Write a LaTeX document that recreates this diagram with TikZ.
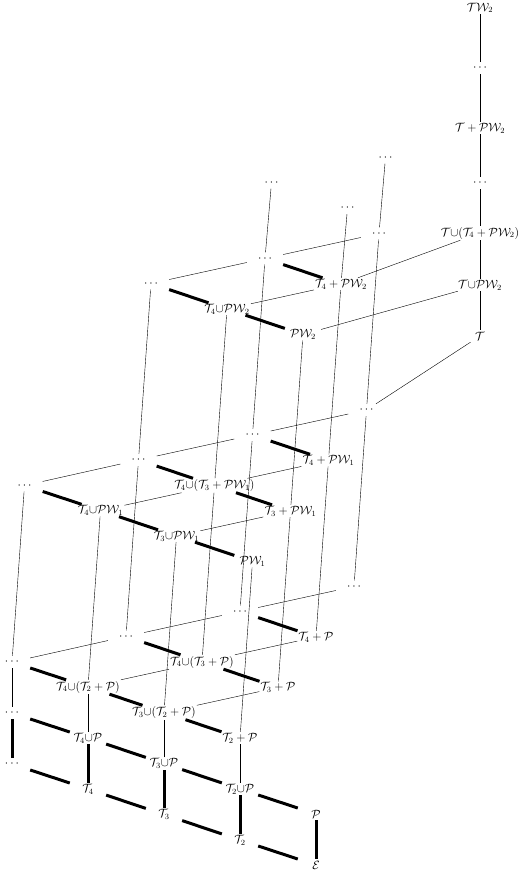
\documentclass[tikz,border=0pt]{standalone}
\newcommand{\cT}{\mathcal{T}}
\newcommand{\cP}{\mathcal{P}}
\newcommand{\cW}{\mathcal{W}}
\newcommand{\cE}{\mathcal{E}}
\newcommand{\un}{{\cup}}
\begin{document}
\begin{tikzpicture}[x=1pt,y=-1pt,
  n/.style={inner sep=1pt,minimum width=36pt,minimum height=12pt,font=\fontsize{12}{14}\selectfont},
  ln/.style={line width=0.4pt},
  tk/.style={line width=3pt}]
\useasboundingbox (0,0) rectangle (520,872);
% P layer
\node[n] (E)  at (316,865)   {$\cE$};
\node[n] (A2) at (240,840)   {$\cT_2$};
\node[n] (A3) at (164,814.5) {$\cT_3$};
\node[n] (A4) at (88,789)    {$\cT_4$};
\node[n] (A5) at (12,764)    {$\cdots$};
\node[n] (P)  at (316,814)   {$\cP$};
\node[n] (B2) at (240,789)   {$\cT_2\un\cP$};
\node[n] (B3) at (164,763.5) {$\cT_3\un\cP$};
\node[n] (B4) at (88,738)    {$\cT_4\un\cP$};
\node[n] (B5) at (12,713)    {$\cdots$};
\node[n] (C2) at (240,738)   {$\cT_2+\cP$};
\node[n] (C3) at (164,712.5) {$\cT_3\un(\cT_2+\cP)$};
\node[n] (C4) at (88,687)    {$\cT_4\un(\cT_2+\cP)$};
\node[n] (C5) at (12,662)    {$\cdots$};
\node[n] (D3) at (278,687.5) {$\cT_3+\cP$};
\node[n] (D4) at (202,662)   {$\cT_4\un(\cT_3+\cP)$};
\node[n] (D5) at (126,636.5) {$\cdots$};
\node[n] (F4) at (316,637)   {$\cT_4+\cP$};
\node[n] (F5) at (240,611.5) {$\cdots$};
\node[n] (G5) at (354,586.5) {$\cdots$};
% PW1 layer
\node[n] (C2a) at (252.5,561.5) {$\cP\cW_1$};
\node[n] (C3a) at (176.5,536)   {$\cT_3\un\cP\cW_1$};
\node[n] (C4a) at (100.5,510.5) {$\cT_4\un\cP\cW_1$};
\node[n] (C5a) at (24.5,485.5)  {$\cdots$};
\node[n] (D3a) at (290.5,511)   {$\cT_3+\cP\cW_1$};
\node[n] (D4a) at (214.5,485.5) {$\cT_4\un(\cT_3+\cP\cW_1)$};
\node[n] (D5a) at (138.5,460)   {$\cdots$};
\node[n] (F4a) at (328.5,460.5) {$\cT_4+\cP\cW_1$};
\node[n] (F5a) at (252.5,435)   {$\cdots$};
\node[n] (G5a) at (366.5,410)   {$\cdots$};
% PW2 layer
\node[n] (D3b) at (303,334.5) {$\cP\cW_2$};
\node[n] (D4b) at (227,309)   {$\cT_4\un\cP\cW_2$};
\node[n] (D5b) at (151,283.5) {$\cdots$};
\node[n] (F4b) at (341,284)   {$\cT_4+\cP\cW_2$};
\node[n] (F5b) at (265,258.5) {$\cdots$};
\node[n] (G5b) at (379,233.5) {$\cdots$};
% top dots
\node[n] (F4t) at (347.5,208)   {$\cdots$};
\node[n] (F5t) at (271.5,182.5) {$\cdots$};
\node[n] (G5t) at (385.5,157.5) {$\cdots$};
% T column
\node[n] (T0) at (480,336) {$\cT$};
\node[n] (T1) at (480,285) {$\cT\un\cP\cW_2$};
\node[n] (T2) at (480,233) {$\cT\un(\cT_4+\cP\cW_2)$};
\node[n] (T3) at (480,183) {$\cdots$};
\node[n] (T4) at (480,128) {$\cT+\cP\cW_2$};
\node[n] (T5) at (480,68)  {$\cdots$};
\node[n] (T6) at (480,8)   {$\cT\cW_2$};
% thick edges
\foreach \a/\b in {E/A2,A2/A3,A3/A4,A4/A5,P/B2,B2/B3,B3/B4,B4/B5,C2/C3,C3/C4,C4/C5,D3/D4,D4/D5,F4/F5,
  E/P,A2/B2,A3/B3,A4/B4,A5/B5,
  C2a/C3a,C3a/C4a,C4a/C5a,D3a/D4a,D4a/D5a,F4a/F5a,
  D3b/D4b,D4b/D5b,F4b/F5b}
  \draw[tk] (\a) -- (\b);
% thin edges
\foreach \a/\b in {B2/C2,B3/C3,B4/C4,B5/C5,
  C3/D3,C4/D4,C5/D5,D4/F4,D5/F5,F5/G5,
  C2/C2a,C3/C3a,C4/C4a,C5/C5a,D3/D3a,D4/D4a,D5/D5a,F4/F4a,F5/F5a,G5/G5a,
  C3a/D3a,C4a/D4a,C5a/D5a,D4a/F4a,D5a/F5a,F5a/G5a,
  D3a/D3b,D4a/D4b,D5a/D5b,F4a/F4b,F5a/F5b,G5a/G5b,
  G5a/T0,
  D4b/F4b,D5b/F5b,F5b/G5b,
  F4b/F4t,F5b/F5t,G5b/G5t,
  D3b/T1,F4b/T2,
  T0/T1,T1/T2,T2/T3,T3/T4,T4/T5,T5/T6}
  \draw[ln] (\a) -- (\b);
\end{tikzpicture}
\end{document}
